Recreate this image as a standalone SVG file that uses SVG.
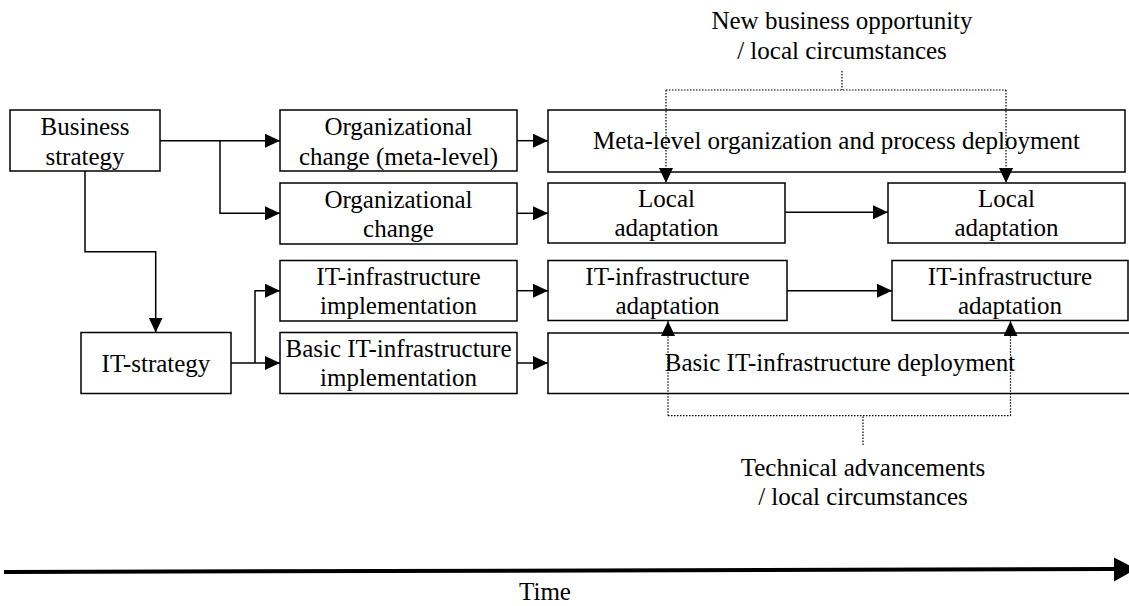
<svg xmlns="http://www.w3.org/2000/svg" width="1129" height="606" viewBox="0 0 1129 606">
<style>
  .box { fill: #fff; stroke: #000; stroke-width: 1.5; }
  .t { font-family: "Liberation Serif", "Times New Roman", serif; font-size: 25px; fill: #000; text-anchor: middle; }
  .c { fill: none; stroke: #000; stroke-width: 1.5; }
  .d { fill: none; stroke: #000; stroke-width: 1.2; stroke-dasharray: 1.5 1.5; }
</style>
<defs>
  <marker id="ah" viewBox="0 0 15 14" refX="15" refY="7" markerWidth="15" markerHeight="14" orient="auto" markerUnits="userSpaceOnUse">
    <path d="M0,0 L15,7 L0,14 z" fill="#000"/>
  </marker>
</defs>
<rect x="0" y="0" width="1129" height="606" fill="#fff"/>

<g id="business-strategy">
  <rect class="box" x="10" y="110" width="150" height="61"/>
  <text class="t" x="85" y="135">Business</text>
  <text class="t" x="85" y="165">strategy</text>
</g>
<g id="it-strategy">
  <rect class="box" x="81" y="332.5" width="150" height="61"/>
  <text class="t" x="156" y="371.5">IT-strategy</text>
</g>
<g id="org-change-meta">
  <rect class="box" x="280" y="110" width="237" height="61"/>
  <text class="t" x="398.5" y="135">Organizational</text>
  <text class="t" x="398.5" y="165">change (meta-level)</text>
</g>
<g id="org-change">
  <rect class="box" x="280" y="183" width="237" height="61"/>
  <text class="t" x="398.5" y="207.5">Organizational</text>
  <text class="t" x="398.5" y="237">change</text>
</g>
<g id="it-infra-impl">
  <rect class="box" x="280" y="260.5" width="237" height="60.5"/>
  <text class="t" x="398.5" y="285">IT-infrastructure</text>
  <text class="t" x="398.5" y="313.5">implementation</text>
</g>
<g id="basic-it-impl">
  <rect class="box" x="280" y="332.5" width="237" height="61"/>
  <text class="t" x="398.5" y="357">Basic IT-infrastructure</text>
  <text class="t" x="398.5" y="386">implementation</text>
</g>
<g id="meta-deployment">
  <rect class="box" x="548" y="110" width="577" height="62"/>
  <text class="t" x="836.5" y="148.5">Meta-level organization and process deployment</text>
</g>
<g id="local-adaptation-1">
  <rect class="box" x="548" y="183" width="237" height="60"/>
  <text class="t" x="666.5" y="207">Local</text>
  <text class="t" x="666.5" y="236">adaptation</text>
</g>
<g id="local-adaptation-2">
  <rect class="box" x="888" y="183" width="237" height="60"/>
  <text class="t" x="1006.5" y="207">Local</text>
  <text class="t" x="1006.5" y="236">adaptation</text>
</g>
<g id="it-adaptation-1">
  <rect class="box" x="548" y="260.5" width="239" height="60"/>
  <text class="t" x="667.5" y="284.5">IT-infrastructure</text>
  <text class="t" x="667.5" y="313.5">adaptation</text>
</g>
<g id="it-adaptation-2">
  <rect class="box" x="892" y="260.5" width="236" height="60"/>
  <text class="t" x="1010" y="284.5">IT-infrastructure</text>
  <text class="t" x="1010" y="313.5">adaptation</text>
</g>
<g id="basic-it-deployment">
  <rect class="box" x="548" y="333" width="584" height="60.5"/>
  <text class="t" x="840" y="371">Basic IT-infrastructure deployment</text>
</g>

<g id="label-business">
  <text class="t" x="842" y="28.5">New business opportunity</text>
  <text class="t" x="842" y="58.5">/ local circumstances</text>
</g>
<g id="label-technical">
  <text class="t" x="863" y="476">Technical advancements</text>
  <text class="t" x="863" y="505">/ local circumstances</text>
</g>

<g id="connectors">
  <path class="c" d="M160,140.7 H280" marker-end="url(#ah)"/>
  <path class="c" d="M220,140.7 V213.3 H280" marker-end="url(#ah)"/>
  <path class="c" d="M85,171 V251.7 H155.7 V332.5" marker-end="url(#ah)"/>
  <path class="c" d="M231,363 H280" marker-end="url(#ah)"/>
  <path class="c" d="M255,363 V290.7 H280" marker-end="url(#ah)"/>
  <path class="c" d="M517,140.7 H548" marker-end="url(#ah)"/>
  <path class="c" d="M517,213.3 H548" marker-end="url(#ah)"/>
  <path class="c" d="M517,290.7 H548" marker-end="url(#ah)"/>
  <path class="c" d="M517,363 H548" marker-end="url(#ah)"/>
  <path class="c" d="M785,212.3 H888" marker-end="url(#ah)"/>
  <path class="c" d="M787,290.7 H892" marker-end="url(#ah)"/>
  <path class="d" d="M842,71 V90"/>
  <path class="d" d="M666,90 H1006"/>
  <path class="d" d="M666,90 V183" marker-end="url(#ah)"/>
  <path class="d" d="M1006,90 V183" marker-end="url(#ah)"/>
  <path class="d" d="M863,445 V415.7"/>
  <path class="d" d="M668,415.7 H1010.5"/>
  <path class="d" d="M668,415.7 V321" marker-end="url(#ah)"/>
  <path class="d" d="M1010.5,415.7 V321" marker-end="url(#ah)"/>
</g>

<g id="time-axis">
  <path d="M4,572 L1114,569" stroke="#000" stroke-width="4" fill="none"/>
  <polygon points="1114,557.5 1136,569 1114,581.5" fill="#000"/>
  <text class="t" x="545" y="600">Time</text>
</g>
</svg>
